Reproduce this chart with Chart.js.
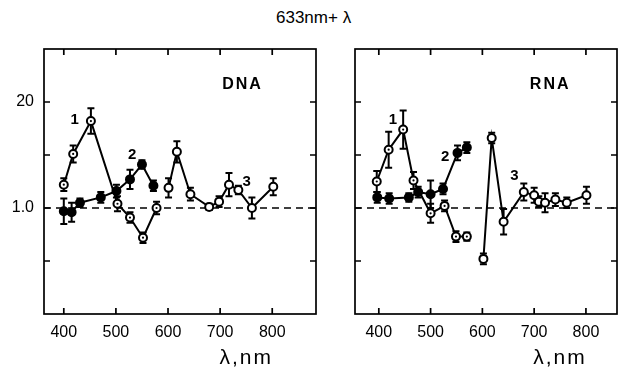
<!DOCTYPE html>
<html>
<head>
<meta charset="utf-8">
<script src="https://cdn.jsdelivr.net/npm/chart.js@4/dist/chart.umd.min.js"></script>
<style>
  body { margin: 0; background: #fff; }
  #wrap { position: relative; width: 623px; height: 376px; }
  canvas { position: absolute; top: 0; }
  #title { position: absolute; top: 8px; left: 276px; font: 17px "Liberation Sans", Arial, sans-serif; color: #000; }
</style>
</head>
<body>
<div id="wrap">
  <div id="title">633nm+ λ</div>
  <canvas id="dna" width="330" height="376" style="left:0"></canvas>
  <canvas id="rna" width="293" height="376" style="left:330px"></canvas>
</div>
<script>
// tick values
const xTicks = [400, 500, 600, 700, 800];
const yTicks = [0.5, 1.0, 1.5, 2.0];

// DNA panel
const dna1X = [400, 418, 452, 503, 527, 552, 578];
const dna1Y = [1.22, 1.51, 1.82, 1.04, 0.91, 0.72, 1.00];
const dna1Err = [0.06, 0.08, 0.12, 0.07, 0.05, 0.05, 0.06];

const dna2X = [400, 415, 431, 471, 501, 527, 550, 572];
const dna2Y = [0.97, 0.96, 1.05, 1.10, 1.16, 1.27, 1.41, 1.21];
const dna2Err = [0.12, 0.09, 0.04, 0.05, 0.06, 0.09, 0.04, 0.05];

const dna3X = [601, 617, 643, 679, 698, 717, 735, 761, 802];
const dna3Y = [1.19, 1.53, 1.13, 1.01, 1.06, 1.22, 1.17, 1.00, 1.20];
const dna3Err = [0.09, 0.10, 0.06, 0.03, 0.05, 0.11, 0.04, 0.10, 0.08];

// RNA panel
const rna1X = [396, 419, 447, 467, 500, 527, 549, 570];
const rna1Y = [1.25, 1.55, 1.74, 1.26, 0.95, 1.02, 0.73, 0.73];
const rna1Err = [0.10, 0.17, 0.18, 0.08, 0.09, 0.05, 0.05, 0.04];

const rna2X = [397, 420, 458, 476, 500, 524, 552, 570];
const rna2Y = [1.10, 1.09, 1.10, 1.15, 1.13, 1.18, 1.52, 1.57];
const rna2Err = [0.05, 0.05, 0.04, 0.05, 0.13, 0.05, 0.07, 0.05];

const rna3X = [602, 618, 641, 680, 700, 709, 721, 741, 763, 801];
const rna3Y = [0.52, 1.66, 0.87, 1.15, 1.12, 1.06, 1.05, 1.08, 1.05, 1.12];
const rna3Err = [0.05, 0.05, 0.12, 0.08, 0.07, 0.05, 0.09, 0.06, 0.05, 0.08];

function pts(xs, ys, es) {
  return xs.map((x, i) => ({ x: x, y: ys[i], e: es[i] }));
}

function series(xs, ys, es, filled, dotted) {
  return {
    data: pts(xs, ys, es),
    showLine: true,
    borderColor: "#000",
    borderWidth: 2,
    pointRadius: 4,
    pointBorderWidth: 2,
    pointBorderColor: "#000",
    pointBackgroundColor: filled ? "#000" : "#fff",
    dotted: dotted
  };
}

const panelPlugin = {
  id: "panel",
  beforeDatasetsDraw(chart) {
    const ctx = chart.ctx;
    const a = chart.chartArea;
    const x = chart.scales.x, y = chart.scales.y;
    ctx.save();
    ctx.strokeStyle = "#000";
    ctx.lineWidth = 1.5;
    ctx.setLineDash([7, 5]);
    const y1 = y.getPixelForValue(1);
    ctx.beginPath();
    ctx.moveTo(a.left, y1);
    ctx.lineTo(a.right, y1);
    ctx.stroke();
    ctx.setLineDash([]);

    ctx.lineWidth = 2;
    chart.data.datasets.forEach(ds => {
      ds.data.forEach(p => {
        const px = x.getPixelForValue(p.x);
        const top = y.getPixelForValue(p.y + p.e);
        const bot = y.getPixelForValue(p.y - p.e);
        ctx.beginPath();
        ctx.moveTo(px, top); ctx.lineTo(px, bot);
        ctx.moveTo(px - 3.5, top); ctx.lineTo(px + 3.5, top);
        ctx.moveTo(px - 3.5, bot); ctx.lineTo(px + 3.5, bot);
        ctx.stroke();
      });
    });
    ctx.restore();
  },
  afterDatasetsDraw(chart) {
    const ctx = chart.ctx;
    const x = chart.scales.x, y = chart.scales.y;
    ctx.save();
    ctx.fillStyle = "#000";
    chart.data.datasets.forEach(ds => {
      if (!ds.dotted) return;
      ds.data.forEach(p => {
        ctx.beginPath();
        ctx.arc(x.getPixelForValue(p.x), y.getPixelForValue(p.y), 1.1, 0, Math.PI * 2);
        ctx.fill();
      });
    });
    ctx.restore();
  },
  afterDraw(chart, args, opts) {
    const ctx = chart.ctx;
    const a = chart.chartArea;
    const x = chart.scales.x, y = chart.scales.y;
    ctx.save();
    ctx.strokeStyle = "#000";
    ctx.lineWidth = 1.7;
    ctx.strokeRect(a.left, a.top, a.right - a.left, a.bottom - a.top);

    ctx.beginPath();
    xTicks.forEach(v => {
      const px = x.getPixelForValue(v);
      ctx.moveTo(px, a.bottom); ctx.lineTo(px, a.bottom - 6);
      ctx.moveTo(px, a.top); ctx.lineTo(px, a.top + 6);
    });
    yTicks.forEach(v => {
      const py = y.getPixelForValue(v);
      ctx.moveTo(a.left, py); ctx.lineTo(a.left + 6, py);
      ctx.moveTo(a.right, py); ctx.lineTo(a.right - 6, py);
    });
    ctx.stroke();

    ctx.fillStyle = "#000";
    ctx.textAlign = "center";
    ctx.textBaseline = "middle";
    (opts.notes || []).forEach(n => {
      ctx.font = n.font;
      ctx.letterSpacing = n.spacing || "0px";
      ctx.fillText(n.text, x.getPixelForValue(n.x), y.getPixelForValue(n.y));
    });

    ctx.letterSpacing = "2px";
    ctx.font = "21px 'Liberation Sans', Arial, sans-serif";
    ctx.fillText("λ,nm", x.getPixelForValue(750), a.bottom + 44);
    ctx.restore();
  }
};

function makeChart(id, datasets, xMin, xMax, yWidth, rightPad, showY, notes) {
  return new Chart(document.getElementById(id), {
    type: "scatter",
    data: { datasets: datasets },
    options: {
      responsive: false,
      animation: false,
      devicePixelRatio: 1,
      layout: { padding: { top: 49, right: rightPad, left: 0, bottom: 0 } },
      plugins: {
        legend: { display: false },
        tooltip: { enabled: false },
        panel: { notes: notes }
      },
      scales: {
        x: {
          type: "linear",
          min: xMin,
          max: xMax,
          grid: { display: false, drawTicks: false },
          border: { display: false },
          afterBuildTicks: s => { s.ticks = xTicks.map(v => ({ value: v })); },
          afterFit: s => { s.height = 62; },
          ticks: {
            padding: 9,
            color: "#000",
            font: { family: "'Liberation Sans', Arial, sans-serif", size: 16 },
            callback: v => String(v)
          }
        },
        y: {
          type: "linear",
          min: 0,
          max: 2.5,
          grid: { display: false, drawTicks: false },
          border: { display: false },
          afterBuildTicks: s => { s.ticks = yTicks.map(v => ({ value: v })); },
          afterFit: s => { s.width = yWidth; },
          ticks: {
            display: showY,
            padding: 10,
            color: "#000",
            font: { family: "'Liberation Sans', Arial, sans-serif", size: 16 },
            callback: v => (v === 2 ? "20" : v === 1 ? "1.0" : "")
          }
        }
      }
    },
    plugins: [panelPlugin]
  });
}

const boldNum = "bold 15px 'Liberation Sans', Arial, sans-serif";
const panelFont = "bold 16px 'Liberation Sans', Arial, sans-serif";

makeChart("dna", [
  series(dna1X, dna1Y, dna1Err, false, true),
  series(dna2X, dna2Y, dna2Err, true, false),
  series(dna3X, dna3Y, dna3Err, false, false)
], 362, 884, 44, 14, true, [
  { text: "1", x: 421, y: 1.83, font: boldNum },
  { text: "2", x: 531, y: 1.50, font: boldNum },
  { text: "3", x: 751, y: 1.25, font: boldNum },
  { text: "DNA", x: 743, y: 2.16, font: panelFont, spacing: "2px" }
]);

makeChart("rna", [
  series(rna1X, rna1Y, rna1Err, false, true),
  series(rna2X, rna2Y, rna2Err, true, false),
  series(rna3X, rna3Y, rna3Err, false, false)
], 354, 860, 25, 6, false, [
  { text: "1", x: 427, y: 1.83, font: boldNum },
  { text: "2", x: 528, y: 1.48, font: boldNum },
  { text: "3", x: 662, y: 1.30, font: boldNum },
  { text: "RNA", x: 731, y: 2.16, font: panelFont, spacing: "2px" }
]);
</script>
</body>
</html>
